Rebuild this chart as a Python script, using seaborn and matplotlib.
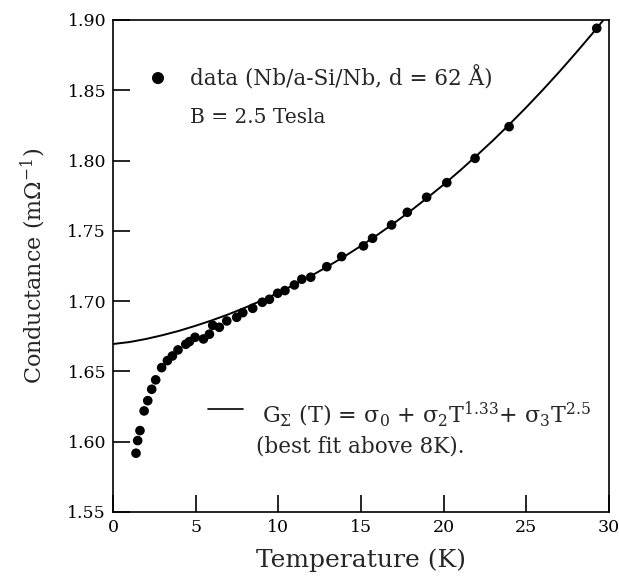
import matplotlib
matplotlib.use("Agg")
import matplotlib.pyplot as plt
import seaborn as sns
import pandas as pd

# measured data points
temp_K = [1.39, 1.49, 1.63, 1.88, 2.10, 2.34, 2.58, 2.94, 3.29, 3.59, 3.93, 4.40, 4.62,
          4.96, 5.47, 5.83, 6.03, 6.43, 6.88, 7.48, 7.85, 8.45, 9.03, 9.46, 9.96, 10.4,
          10.97, 11.42, 11.96, 12.93, 13.83, 15.15, 15.7, 16.85, 17.8, 18.97, 20.19,
          21.9, 23.96, 29.26]
conductance = [1.5918, 1.6008, 1.6079, 1.6219, 1.6292, 1.6373, 1.6440, 1.6527, 1.6577,
               1.6610, 1.6653, 1.6693, 1.6712, 1.6743, 1.6731, 1.6765, 1.6828, 1.6814,
               1.6859, 1.6885, 1.6918, 1.6949, 1.6992, 1.7013, 1.7056, 1.7075, 1.7115,
               1.7156, 1.7170, 1.7245, 1.7317, 1.7393, 1.7447, 1.7542, 1.7632, 1.7739,
               1.7843, 1.8016, 1.8241, 1.8941]

# fit curve values
fit_T = [0, 1, 2, 3, 4, 5, 6, 7, 8, 9, 10, 11, 12, 13, 14, 15, 16, 17, 18, 19, 20,
         21, 22, 23, 24, 25, 26, 27, 28, 29, 30]
fit_G = [1.6695, 1.6709, 1.6731, 1.6758, 1.6789, 1.6825, 1.6864, 1.6907, 1.6954,
         1.7005, 1.7060, 1.7119, 1.7181, 1.7248, 1.7318, 1.7393, 1.7472, 1.7555,
         1.7642, 1.7734, 1.7829, 1.7930, 1.8036, 1.8145, 1.8260, 1.8379, 1.8503,
         1.8632, 1.8766, 1.8904, 1.9048]

x_ticks = [0, 5, 10, 15, 20, 25, 30]
y_ticks = [1.55, 1.60, 1.65, 1.70, 1.75, 1.80, 1.85, 1.90]

sns.set_style("ticks")
plt.rcParams['font.family'] = ['DejaVu Serif']
plt.rcParams['mathtext.fontset'] = 'dejavuserif'

fig = plt.figure(figsize=(6.19, 5.83), dpi=100)
ax = fig.add_axes([0.1826, 0.1218, 0.8012, 0.8439])

df_pts = pd.DataFrame({"T": temp_K, "G": conductance})
df_fit = pd.DataFrame({"T": fit_T, "G": fit_G})

sns.lineplot(data=df_fit, x="T", y="G", ax=ax, color="black", linewidth=1.4)
sns.scatterplot(data=df_pts, x="T", y="G", ax=ax, color="black", s=48,
                edgecolor="none", zorder=3)

ax.set_xlim(0, 30)
ax.set_ylim(1.55, 1.90)
ax.set_xticks(x_ticks)
ax.set_xticklabels([str(v) for v in x_ticks])
ax.set_yticks(y_ticks)
ax.set_yticklabels([f"{v:.2f}" for v in y_ticks])
ax.tick_params(direction="in", length=12, width=1.2, labelsize=12.5, pad=5,
               colors="black")
for s in ax.spines.values():
    s.set_linewidth(1.2)
    s.set_color("black")

ax.set_xlabel("Temperature (K)", fontsize=18, labelpad=9)
ax.set_ylabel(r"Conductance (m$\Omega^{-1}$)", fontsize=16, labelpad=14)

# legend annotations
ax.scatter([2.72], [1.8587], s=75, color="black", edgecolor="none")
ax.text(4.66, 1.8535, "data (Nb/a-Si/Nb, d = 62 Å)", fontsize=15.5,
        va="baseline", ha="left")
ax.text(4.66, 1.8267, "B = 2.5 Tesla", fontsize=14.5, va="baseline", ha="left")

ax.plot([5.75, 7.86], [1.6235, 1.6235], color="black", linewidth=1.2)
ax.text(9.0, 1.6141,
        "G$_{\\Sigma}$ (T) = σ$_0$ + σ$_2$T$^{1.33}$+ σ$_3$T$^{2.5}$",
        fontsize=16, va="baseline", ha="left")
ax.text(8.65, 1.5925, "(best fit above 8K).", fontsize=15.5, va="baseline",
        ha="left")

fig.savefig("out.png", dpi=100)
